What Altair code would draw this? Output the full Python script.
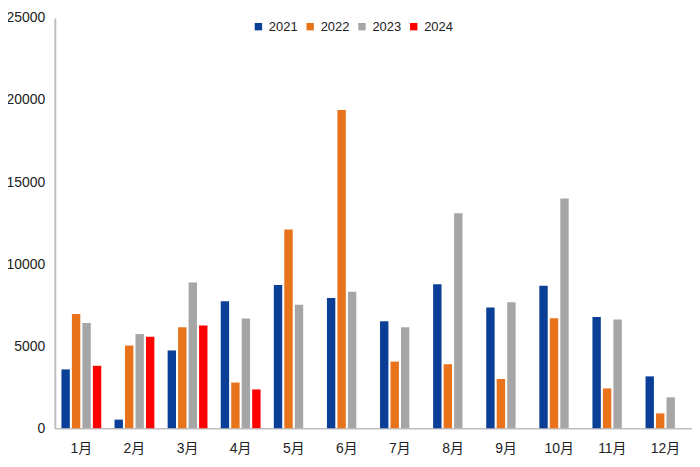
import altair as alt
import pandas as pd

months = ["1月", "2月", "3月", "4月", "5月", "6月", "7月", "8月", "9月", "10月", "11月", "12月"]
years = ["2021", "2022", "2023", "2024"]
v2021 = [3580, 520, 4735, 7735, 8730, 7935, 6515, 8770, 7355, 8675, 6775, 3155]
v2022 = [6950, 5035, 6155, 2780, 12110, 19385, 4055, 3895, 2995, 6695, 2420, 900]
v2023 = [6415, 5735, 8870, 6675, 7515, 8310, 6155, 13090, 7675, 13990, 6615, 1880]
v2024 = [3800, 5575, 6255, 2360]
colors = ["#0B3F97", "#E8731A", "#A6A6A6", "#FF0000"]

rows = []
for y, vals in zip(years, [v2021, v2022, v2023, v2024]):
    for m, v in zip(months, vals):
        rows.append({"month": m, "year": y, "value": v})
df = pd.DataFrame(rows)

FONT = "Liberation Sans, Noto Sans CJK SC"

chart = alt.Chart(df).mark_bar().encode(
    x=alt.X("month:N", sort=months,
            scale=alt.Scale(paddingInner=0.25, paddingOuter=0.125),
            axis=alt.Axis(title=None, labelAngle=0, ticks=False, labelPadding=13,
                          labelFontSize=14, labelColor="#222222", labelFont=FONT,
                          domainColor="#BFBFBF", domainWidth=1.5)),
    xOffset=alt.XOffset("year:N", sort=years,
                        scale=alt.Scale(paddingInner=0.2, paddingOuter=0)),
    y=alt.Y("value:Q", scale=alt.Scale(domain=[0, 25000], nice=False),
            axis=alt.Axis(title=None, values=[0, 5000, 10000, 15000, 20000, 25000],
                          format="d", grid=False, ticks=False, labelPadding=10,
                          labelFontSize=14, labelColor="#222222", labelFont=FONT,
                          domainColor="#BFBFBF", domainWidth=2)),
    color=alt.Color("year:N", sort=years,
                    scale=alt.Scale(domain=years, range=colors),
                    legend=alt.Legend(title=None, orient="none", direction="horizontal",
                                      legendX=198, legendY=2, symbolType="square",
                                      symbolSize=55, symbolStrokeWidth=0,
                                      labelFontSize=13, labelFont=FONT,
                                      labelColor="#222222", columnPadding=6,
                                      labelOffset=4)),
).properties(
    width=640, height=412, autosize="none",
    padding={"left": 47, "top": 9, "right": 0, "bottom": 30},
).configure_view(stroke=None)

chart.save("out.html", embed_options={"renderer": "svg", "actions": False})
